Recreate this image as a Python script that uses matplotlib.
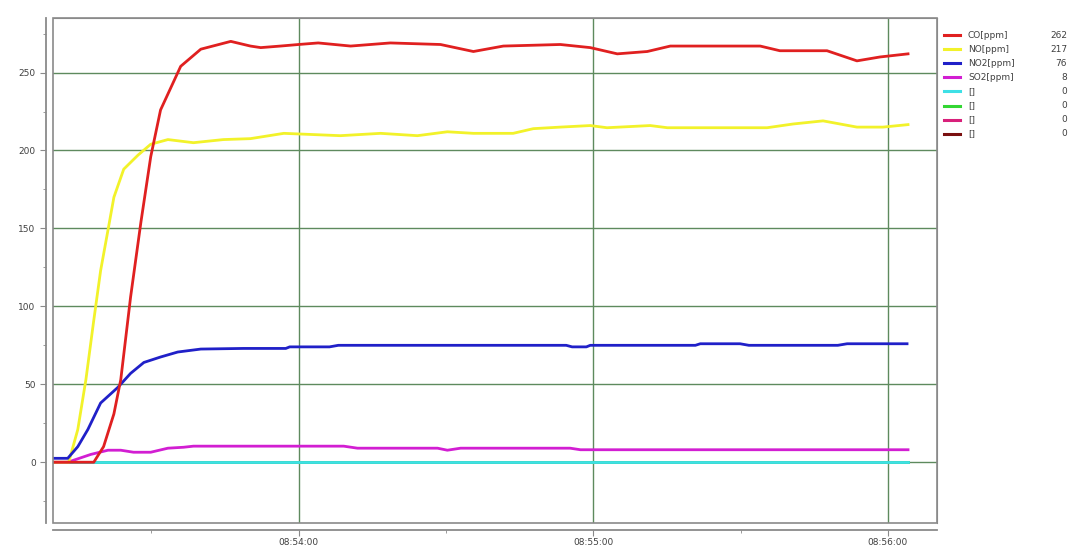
import datetime

import matplotlib
matplotlib.use('Agg')
import matplotlib.pyplot as plt
import matplotlib.dates as mdates
from matplotlib.lines import Line2D
from matplotlib.patches import Rectangle

# time in seconds after 08:53:00, values in ppm
co_t = [10.3, 18.3, 20.3, 22.4, 23.8, 25.8, 27.9, 29.9, 31.9, 36.0, 40.1, 46.2, 50.2,
        52.3, 56.3, 60.0, 64.0, 70.6, 78.7, 88.9, 95.6, 101.7, 113.3, 119.4, 124.9,
        131.0, 135.7, 154.0, 158.0, 167.6, 173.7, 178.4, 184.1]
co_v = [0, 0, 10, 31, 53, 106, 154, 196, 226, 254, 265, 270, 267,
        266, 267, 268, 269, 267, 269, 268, 263.5, 267, 268, 266, 262,
        263.5, 267, 267, 264, 264, 257.5, 260, 262]

no_t = [10.3, 13.2, 15.05, 16.7, 18.3, 19.7, 21.2, 22.4, 24.4, 27.3, 29.9, 33.4, 38.6,
        44.7, 50.2, 57.0, 68.5, 76.7, 84.2, 90.3, 95.6, 103.7, 107.8, 113.3, 119.4,
        122.8, 131.6, 135.1, 155.4, 160.7, 166.8, 173.7, 179.0, 184.1]
no_v = [0, 0, 21, 53, 91, 123, 149, 170, 188, 197, 204, 207, 205,
        207, 207.6, 211, 209.5, 211, 209.5, 212, 211, 211, 214, 215, 216,
        214.6, 216, 214.6, 214.6, 217, 219, 215, 215, 216.6]

no2_t = [10.3, 13.0, 15.05, 17.1, 19.7, 23.2, 25.8, 28.5, 31.9, 35.4, 40.1, 48.8,
         57.4, 58.2, 66.3, 68.1, 114.5, 115.7, 118.6, 119.4, 140.8, 141.8, 149.9,
         151.7, 169.8, 171.7, 183.9]
no2_v = [2.5, 2.5, 10, 21, 38, 48, 57, 64, 67.5, 70.7, 72.6, 73,
         73, 74, 74, 75, 75, 74, 74, 75, 75, 76, 76,
         75, 75, 76, 76]

so2_t = [10.3, 13.0, 17.7, 21.2, 23.8, 26.4, 29.9, 33.4, 36.6, 38.6, 69.2, 72.0,
         88.3, 90.3, 93.0, 115.3, 117.4, 184.1]
so2_v = [0, 0, 5, 7.7, 7.7, 6.4, 6.4, 9, 9.6, 10.3, 10.3, 9,
         9, 7.7, 9, 9, 8, 8]

zero_t = [10.3, 184.1]
zero_v = [0, 0]

labels = ['CO[ppm]', 'NO[ppm]', 'NO2[ppm]', 'SO2[ppm]', '[]', '[]', '[]', '[]']
colors = ['#e02020', '#f2f22a', '#2020c8', '#d21ed2', '#3ee0e6', '#33d633', '#d8207a', '#7a1010']


def to_time(secs):
    base = datetime.datetime(2020, 1, 1, 8, 53, 0)
    return [base + datetime.timedelta(seconds=s) for s in secs]


def main():
    plt.rcParams['font.family'] = ['DejaVu Sans']
    fig = plt.figure(figsize=(10.69, 5.48), dpi=100)
    ax = fig.add_axes([53 / 1069, 1 - 523 / 548, 884 / 1069, 505 / 548])

    series = [(co_t, co_v), (no_t, no_v), (no2_t, no2_v), (so2_t, so2_v),
              (zero_t, zero_v), (zero_t, zero_v), (zero_t, zero_v), (zero_t, zero_v)]
    zorders = [6, 4, 5, 3, 2.9, 2.8, 2.7, 2.6]
    # draw the empty channels first, cyan on top of them
    for i in [7, 6, 5, 4, 3, 2, 1, 0]:
        t, v = series[i]
        ax.plot(to_time(t), v, color=colors[i], lw=2.0, zorder=zorders[i],
                solid_joinstyle='round')

    ax.set_xlim(to_time([10.0, 190.0]))
    ax.set_ylim(-39, 285)

    ax.xaxis.set_major_locator(mdates.MinuteLocator())
    ax.xaxis.set_minor_locator(mdates.SecondLocator(bysecond=[30]))
    ax.xaxis.set_major_formatter(mdates.DateFormatter('%H:%M:%S'))
    ax.set_yticks(range(0, 251, 50))
    ax.set_yticks(range(-25, 276, 50), minor=True)

    ax.grid(True, which='major', color='#5e8a5e', lw=1.0, zorder=1)

    for s in ['top', 'right']:
        ax.spines[s].set_color('#8a8a8a')
    for s in ['left', 'bottom']:
        ax.spines[s].set_position(('outward', 5))
        ax.spines[s].set_color('#8a8a8a')
        ax.spines[s].set_linewidth(1.3)
    ax.add_patch(Rectangle((0, 0), 1, 1, transform=ax.transAxes, fill=False,
                           edgecolor='#8a8a8a', lw=1.2, clip_on=False, zorder=7))

    ax.tick_params(axis='both', which='major', length=4, color='#8a8a8a',
                   labelsize=6.5, labelcolor='#404040')
    ax.tick_params(axis='both', which='minor', length=2.5, color='#8a8a8a')
    ax.tick_params(axis='x', pad=1.5)

    # legend with current values
    finals = [round(v[-1]) for t, v in series]
    for i, lab in enumerate(labels):
        y = 1 - (35 + i * 14.1) / 548
        fig.add_artist(Line2D([944 / 1069, 960 / 1069], [y, y], color=colors[i], lw=2.2))
        fig.text(968 / 1069, y, lab, fontsize=6.5, color='#404040', va='center')
        fig.text(1067 / 1069, y, str(finals[i]), fontsize=6.5, color='#404040',
                 va='center', ha='right')

    fig.savefig('out.png', dpi=100)


if __name__ == '__main__':
    main()
